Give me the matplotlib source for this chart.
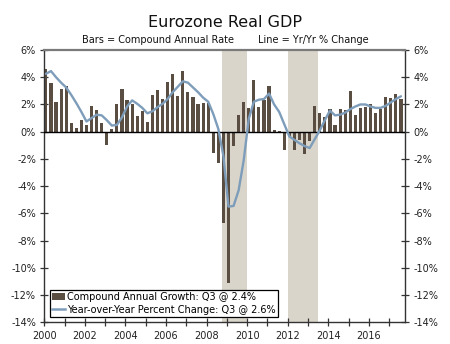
import matplotlib
matplotlib.use("Agg")
import matplotlib.pyplot as plt
from matplotlib.patches import Patch
from matplotlib.lines import Line2D
import numpy as np

plt.rcParams['font.family'] = ['DejaVu Sans']

# Quarterly Eurozone real GDP, 2000Q1 - 2017Q3
start_year = 2000
compound_annual = [
    4.57, 3.59, 2.16, 3.10,
    3.37, 0.61, 0.25, 0.84,
    0.51, 1.90, 1.59, 0.61,
    -0.98, 0.22, 2.05, 3.12,
    2.30, 2.05, 1.15, 1.54,
    0.68, 2.70, 3.03, 2.42,
    3.64, 4.25, 2.60, 4.49,
    2.95, 2.56, 2.00, 2.10,
    2.14, -1.54, -2.30, -6.70,
    -11.10, -1.05, 1.22, 2.15,
    1.71, 3.83, 1.80, 2.32,
    3.32, 0.10, 0.05, -1.34,
    -0.35, -1.34, -0.60, -1.64,
    -0.70, 1.88, 1.39, 1.10,
    1.66, 0.49, 1.66, 1.59,
    3.00, 1.22, 1.76, 1.83,
    2.00, 1.34, 1.64, 2.56,
    2.49, 2.74, 2.40,
]
year_over_year = [
    4.25, 4.45, 4.00, 3.60,
    3.25, 2.70, 2.10, 1.45,
    0.75, 1.00, 1.25, 1.20,
    0.85, 0.45, 0.50, 1.05,
    1.85, 2.30, 2.05, 1.75,
    1.35, 1.50, 1.80, 2.05,
    2.40, 2.90, 3.30, 3.70,
    3.60, 3.25, 2.90, 2.50,
    2.20, 1.30, 0.20, -1.80,
    -5.50, -5.45, -4.30, -2.10,
    0.95, 2.20, 2.35, 2.40,
    2.80, 2.00, 1.45, 0.55,
    -0.35, -0.60, -0.85, -1.05,
    -1.20, -0.55, 0.10, 0.85,
    1.55, 1.20, 1.25, 1.40,
    1.65, 1.85, 2.00, 2.00,
    1.85, 1.75, 1.75, 1.90,
    2.15, 2.40, 2.60,
]
recessions = [(2008.75, 2010.0), (2012.0, 2013.5)]
y_ticks = list(range(-14, 7, 2))
year_labels = list(range(2000, 2017, 2))
legend_labels = ["Compound Annual Growth: Q3 @ 2.4%",
                 "Year-over-Year Percent Change: Q3 @ 2.6%"]

bar_color = '#5A4D41'
line_color = '#7E9DBA'
shade_color = '#D9D5CA'

n = len(compound_annual)
x = start_year + np.arange(n) * 0.25 + 0.08

fig = plt.figure(figsize=(4.5, 3.44), dpi=100)
ax = fig.add_axes([0.0984, 0.0628, 0.8016, 0.7919])

for a, b in recessions:
    ax.axvspan(a, b, color=shade_color, zorder=0, lw=0)

ax.bar(x, compound_annual, width=0.155, color=bar_color, zorder=2, lw=0)
ax.axhline(0, color='black', lw=1.0, zorder=3)
ax.plot(x, year_over_year, color=line_color, lw=1.7, zorder=4,
        solid_capstyle='round')

ax.set_xlim(2000, 2017.78)
ax.set_ylim(-14, 6)

ax.set_yticks(y_ticks)
ax.set_yticklabels([f"{v}%" for v in y_ticks])
ax.tick_params(axis='y', which='both', direction='inout', length=6,
               width=0.9, color='#333333', labelsize=7, pad=3,
               left=True, right=True, labelleft=True, labelright=True,
               labelcolor='#222222')

ax.set_xticks(year_labels)
ax.set_xticklabels([str(v) for v in year_labels])
ax.set_xticks(range(2001, 2018, 2), minor=True)
ax.tick_params(axis='x', which='both', direction='inout', length=6,
               width=0.9, color='#333333', labelsize=7, pad=3,
               labelcolor='#222222')

for side in ('left', 'right', 'bottom'):
    ax.spines[side].set_color('#333333')
    ax.spines[side].set_linewidth(1.0)
ax.spines['top'].set_color('#7A7A7A')
ax.spines['top'].set_linewidth(1.6)

handles = [Patch(facecolor=bar_color, edgecolor='none'),
           Line2D([0], [0], color=line_color, lw=1.8)]
leg = ax.legend(handles, legend_labels, loc='lower left',
                bbox_to_anchor=(0.016, 0.02), borderaxespad=0,
                fontsize=7, frameon=True, fancybox=False,
                handlelength=1.3, handleheight=0.8, handletextpad=0.15,
                labelspacing=0.25, borderpad=0.25, framealpha=1)
leg.get_frame().set_edgecolor('black')
leg.get_frame().set_linewidth(0.9)
leg.set_zorder(5)

fig.text(0.5, 0.935, "Eurozone Real GDP", ha='center', va='center',
         fontsize=11.5, color='#111111')
fig.text(0.182, 0.884, "Bars = Compound Annual Rate", ha='left',
         va='center', fontsize=7, color='#111111')
fig.text(0.573, 0.884, "Line = Yr/Yr % Change", ha='left',
         va='center', fontsize=7, color='#111111')

fig.savefig("out.png", dpi=100)
